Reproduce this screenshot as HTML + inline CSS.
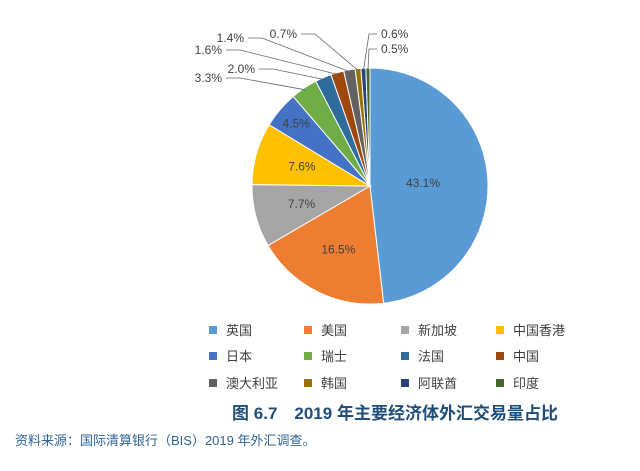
<!DOCTYPE html>
<html><head><meta charset="utf-8"><style>
body{margin:0;background:#fff;width:640px;height:466px;overflow:hidden;font-family:"Liberation Sans","Noto Sans CJK SC",sans-serif}
text{font-family:"Liberation Sans","Noto Sans CJK SC",sans-serif}
</style></head><body>
<svg id="chart" width="640" height="466" viewBox="0 0 640 466">
<g id="slices"></g><g id="labels"></g><g id="legend"></g>
<text x="395" y="419" text-anchor="middle" font-size="17" font-weight="bold" fill="#1f4e79">图 6.7　2019 年主要经济体外汇交易量占比</text>
<text x="15" y="445" font-size="13" fill="#2e6496">资料来源：国际清算银行（BIS）2019 年外汇调查。</text>
</svg>
<script>
const categories=["英国","美国","新加坡","中国香港","日本","瑞士","法国","中国","澳大利亚","韩国","阿联酋","印度"];
const values=[43.1,16.5,7.7,7.6,4.5,3.3,2.0,1.6,1.4,0.7,0.6,0.5];
const valueLabels=["43.1%","16.5%","7.7%","7.6%","4.5%","3.3%","2.0%","1.6%","1.4%","0.7%","0.6%","0.5%"];
const colors=["#5b9bd5","#ed7d31","#a5a5a5","#ffc000","#4472c4","#70ad47","#2e6c9c","#9e480e","#636363","#997300","#264478","#43682b"];
const NS="http://www.w3.org/2000/svg";
const cx=370,cy=186,R=118;
const total=values.reduce((a,b)=>a+b,0);
function pt(a,r){return [cx+r*Math.sin(a),cy-r*Math.cos(a)];}
const sg=document.getElementById('slices'),lg=document.getElementById('labels'),leg=document.getElementById('legend');
// outside label anchor spots for small slices (index -> label position), others inside
const outside={4:[236,106,"start"],5:[222,82,"end"],6:[255,73,"end"],7:[222,54,"end"],8:[244,42,"end"],9:[297,38,"end"],10:[381,38,"start"],11:[381,53,"start"]};
let a0=0;
values.forEach((v,i)=>{
  const a1=a0+v/total*2*Math.PI;
  const p0=pt(a0,R),p1=pt(a1,R);
  const large=(a1-a0)>Math.PI?1:0;
  const p=document.createElementNS(NS,'path');
  p.setAttribute('d',`M${cx},${cy}L${p0[0]},${p0[1]}A${R},${R} 0 ${large} 1 ${p1[0]},${p1[1]}Z`);
  p.setAttribute('fill',colors[i]);p.setAttribute('stroke','#fff');p.setAttribute('stroke-width','1');
  
  
  sg.appendChild(p);
  const am=(a0+a1)/2;
  const t=document.createElementNS(NS,'text');
  t.setAttribute('font-size','12');t.setAttribute('fill','#404040');
  if(outside[i]&&i>=5){
    const [lx,ly,anc]=outside[i];
    const e=pt(am,R-2);
    const ln=document.createElementNS(NS,'polyline');
    const tx=anc==="end"?lx+4:lx-4;
    const hx=anc==="end"?tx+14:tx-8;
    ln.setAttribute('points',`${tx},${ly-4} ${hx},${ly-4} ${e[0]},${e[1]}`);
    ln.setAttribute('fill','none');ln.setAttribute('stroke','#666');ln.setAttribute('stroke-width','0.8');
    
    
    lg.appendChild(ln);
    t.setAttribute('x',lx);t.setAttribute('y',ly);t.setAttribute('text-anchor',anc);
  } else {
    const rr=i===0?0.45:(i===4?0.82:0.6);
    const q=pt(am,R*rr);
    t.setAttribute('x',q[0]);t.setAttribute('y',q[1]+4);t.setAttribute('text-anchor','middle');
  }
  t.textContent=valueLabels[i];
  
  
  lg.appendChild(t);
  a0=a1;
});
const colX=[213,308,405,500],rowY=[330,356,383];
categories.forEach((c,i)=>{
  const x=colX[i%4],y=rowY[Math.floor(i/4)];
  const g=document.createElementNS(NS,'g');
  
  
  const r=document.createElementNS(NS,'rect');
  r.setAttribute('x',x-4);r.setAttribute('y',y-4);r.setAttribute('width',8);r.setAttribute('height',8);r.setAttribute('fill',colors[i]);
  const t=document.createElementNS(NS,'text');
  t.setAttribute('x',x+13);t.setAttribute('y',y+5);t.setAttribute('font-size','13');t.setAttribute('fill','#404040');
  t.textContent=c;
  g.appendChild(r);g.appendChild(t);leg.appendChild(g);
});
</script>
</body></html>
